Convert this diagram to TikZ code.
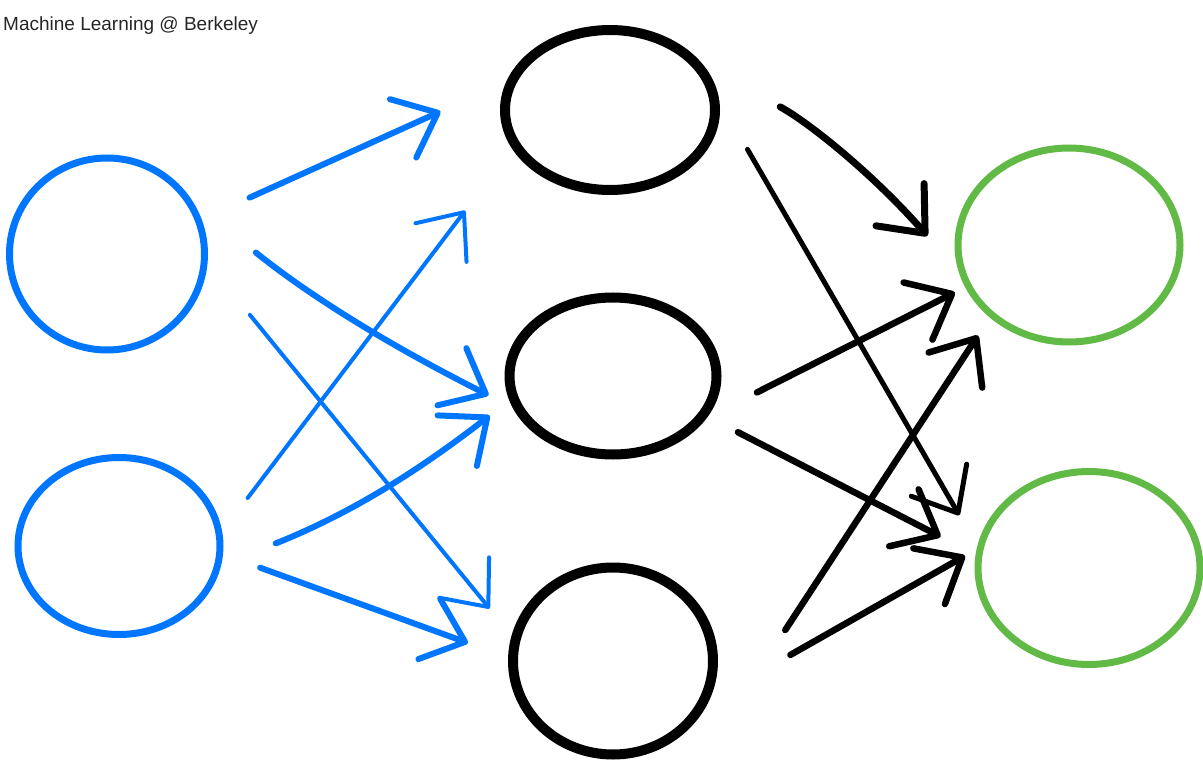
\documentclass[tikz,border=0pt]{standalone}
\usepackage{fontspec}
\setmainfont{Liberation Sans}
\usetikzlibrary{positioning,arrows.meta,shapes.geometric}

\definecolor{inblue}{RGB}{0,118,255}
\definecolor{outgreen}{RGB}{98,186,70}

\begin{document}
\begin{tikzpicture}[
    x=1pt, y=-1pt,
    neuron/.style={ellipse, draw=#1, line width=7pt, inner sep=0pt, outer sep=0pt},
    neuron/.default={black},
    arr/.style={-{Straight Barb[length=38pt,width=64pt,round]}, line width=6pt, line cap=round, #1},
    arr/.default={inblue},
    heading/.style={font=\fontsize{19}{23}\selectfont, text=black!85, inner sep=0pt},
]
\useasboundingbox (0,0) rectangle (1203,765);

\node[heading, anchor=base west] (title) at (3,31) {Machine Learning @ Berkeley};

% input layer
\node[neuron=inblue, minimum width=195pt, minimum height=192pt] (in1) at (107,254) {};
\node[neuron=inblue, minimum width=202pt, minimum height=177pt] (in2) at (119,546) {};

% hidden layer
\node[neuron, line width=10pt, minimum width=210pt, minimum height=160pt] (hid1) at (610,110) {};
\node[neuron, line width=10pt, minimum width=207pt, minimum height=157pt] (hid2) at (613,376) {};
\node[neuron, line width=10pt, minimum width=200pt, minimum height=187pt] (hid3) at (613,661) {};

% output layer
\node[neuron=outgreen, minimum width=222pt, minimum height=194pt] (out1) at (1069,245) {};
\node[neuron=outgreen, minimum width=222pt, minimum height=193pt] (out2) at (1089,568) {};

% ===== ARROWS =====
\draw[arr, shorten <=56pt, shorten >=80pt] (in1.20) -- (hid1.162);
\draw[arr, line width=4pt, shorten <=47pt, shorten >=83pt] (in2.6) -- (hid1.200);
\draw[arr, shorten <=93pt, shorten >=36pt] (in1.38) to[bend right=6] (hid2.201);
\draw[arr, shorten <=63pt, shorten >=30pt] (in2.348) to[bend right=8] (hid2.192);
\draw[arr, line width=4pt, shorten <=72pt, shorten >=41pt] (in1.357) -- (hid3.168);
\draw[arr, shorten <=43pt, shorten >=48pt] (in2.356) -- (hid3.179);

\draw[arr=black, line width=7pt, shorten <=106pt, shorten >=57pt] (hid1.35) to[bend left=10] (out1.198);
\draw[arr=black, line width=5pt, shorten <=80pt, shorten >=41pt] (hid1.17) -- (out2.171);
\draw[arr=black, line width=6.5pt, shorten <=69pt, shorten >=15pt] (hid2.330) -- (out1.202);
\draw[arr=black, line width=6.5pt, shorten <=39pt, shorten >=43pt] (hid2.337) -- (out2.174);
\draw[arr=black, line width=6.5pt, shorten <=37pt, shorten >=25pt] ([xshift=52pt]hid3.east) -- (out1.222);
\draw[arr=black, line width=6.5pt, shorten <=103pt, shorten >=18pt] (hid3.333) -- (out2.169);

\end{tikzpicture}
\end{document}
